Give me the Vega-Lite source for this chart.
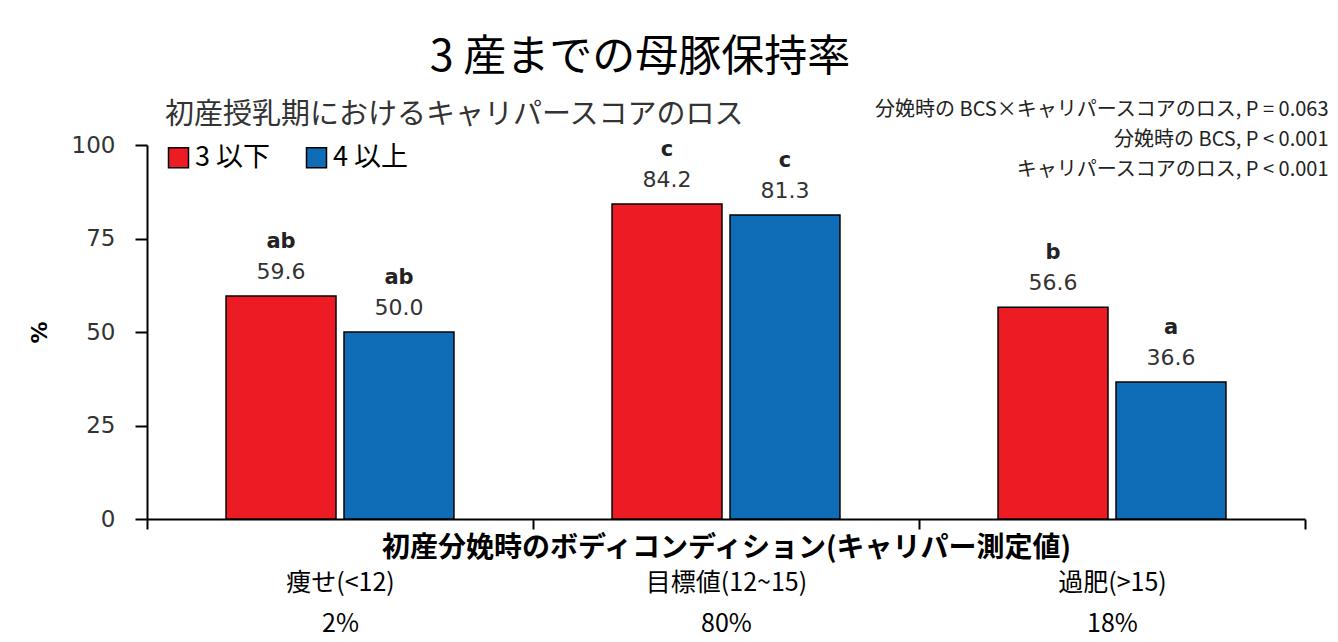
{
  "$schema": "https://vega.github.io/schema/vega-lite/v6.json",
  "width": 1158,
  "height": 374,
  "autosize": {"type": "none"},
  "padding": {"left": 147, "top": 145, "right": 33, "bottom": 123},
  "background": "white",
  "title": {
    "text": "3 産までの母豚保持率",
    "fontSize": 43,
    "font": "Noto Sans CJK JP",
    "fontWeight": "normal",
    "color": "black",
    "anchor": "middle",
    "dx": -86,
    "offset": 19
  },
  "data": {
    "values": [
      {"bcs": "痩せ(<12)", "loss": "3 以下", "pct": 59.6, "sig": "ab"},
      {"bcs": "痩せ(<12)", "loss": "4 以上", "pct": 50.0, "sig": "ab"},
      {"bcs": "目標値(12~15)", "loss": "3 以下", "pct": 84.2, "sig": "c"},
      {"bcs": "目標値(12~15)", "loss": "4 以上", "pct": 81.3, "sig": "c"},
      {"bcs": "過肥(>15)", "loss": "3 以下", "pct": 56.6, "sig": "b"},
      {"bcs": "過肥(>15)", "loss": "4 以上", "pct": 36.6, "sig": "a"}
    ]
  },
  "encoding": {
    "x": {
      "field": "bcs",
      "type": "nominal",
      "sort": null,
      "scale": {"paddingInner": 0, "paddingOuter": 0},
      "axis": {
        "title": "初産分娩時のボディコンディション(キャリパー測定値)",
        "titleFontSize": 28,
        "titleFontWeight": "bold",
        "titleFont": "Noto Sans CJK JP",
        "titleColor": "black",
        "titleY": 29,
        "titleBaseline": "middle",
        "labelExpr": "datum.label == '痩せ(<12)' ? ['痩せ(<12)', '2%'] : datum.label == '目標値(12~15)' ? ['目標値(12~15)', '80%'] : datum.label == '過肥(>15)' ? ['過肥(>15)', '18%'] : ''",
        "labelFontSize": 25,
        "labelFont": "Noto Sans CJK JP",
        "labelColor": "black",
        "labelPadding": 41,
        "labelLineHeight": 41,
        "labelAngle": 0,
        "labelBaseline": "top",
        "tickBand": "extent",
        "tickSize": 10,
        "tickWidth": 2,
        "tickColor": "black",
        "domainColor": "black",
        "domainWidth": 2,
        "grid": false
      }
    },
    "xOffset": {
      "field": "loss",
      "type": "nominal",
      "sort": ["3 以下", "4 以上"],
      "scale": {"paddingInner": 0.068, "paddingOuter": 0.67}
    }
  },
  "layer": [
    {
      "mark": {"type": "bar", "stroke": "black", "strokeWidth": 1.5},
      "encoding": {
        "y": {
          "field": "pct",
          "type": "quantitative",
          "scale": {"domain": [0, 100]},
          "axis": {
            "values": [0, 25, 50, 75, 100],
            "title": "%",
            "titleFontSize": 22,
            "titleFont": "DejaVu Sans",
            "titleFontWeight": "bold",
            "titleColor": "black",
            "titlePadding": 20,
            "labelFontSize": 23,
            "labelFont": "DejaVu Sans",
            "labelColor": "#333333",
            "labelPadding": 20,
            "tickSize": 12,
            "tickWidth": 2,
            "tickColor": "black",
            "domainColor": "black",
            "domainWidth": 2,
            "grid": false
          }
        },
        "color": {
          "field": "loss",
          "type": "nominal",
          "sort": ["3 以下", "4 以上"],
          "scale": {"domain": ["3 以下", "4 以上"], "range": ["#ED1C24", "#0F6CB6"]},
          "legend": {
            "orient": "none",
            "legendX": 18,
            "legendY": -44,
            "direction": "horizontal",
            "title": "初産授乳期におけるキャリパースコアのロス",
            "titleLimit": 0,
            "titleFontSize": 29,
            "titleFont": "Noto Sans CJK JP",
            "titleFontWeight": "normal",
            "titleColor": "#333333",
            "titlePadding": 14,
            "labelFontSize": 27,
            "labelFont": "Noto Sans CJK JP",
            "labelColor": "black",
            "labelOffset": 3,
            "labelLimit": 0,
            "columnPadding": 32,
            "symbolType": "square",
            "symbolSize": 400,
            "symbolStrokeColor": "black",
            "symbolStrokeWidth": 1.5,
            "symbolOpacity": 1
          }
        }
      }
    },
    {
      "mark": {"type": "text", "dy": -24, "fontSize": 22, "font": "DejaVu Sans", "color": "#333333"},
      "encoding": {
        "y": {"field": "pct", "type": "quantitative", "scale": {"domain": [0, 100]}, "axis": null},
        "text": {"field": "pct", "type": "quantitative", "format": ".1f"}
      }
    },
    {
      "mark": {"type": "text", "dy": -54, "fontSize": 21, "font": "DejaVu Sans", "fontWeight": "bold", "color": "#222222"},
      "encoding": {
        "y": {
          "field": "pct",
          "type": "quantitative",
          "scale": {"domain": [0, 100]},
          "axis": {
            "orient": "right",
            "domain": false,
            "ticks": false,
            "labels": false,
            "grid": false,
            "title": ["分娩時の BCS×キャリパースコアのロス, P = 0.063", "分娩時の BCS, P < 0.001", "キャリパースコアのロス, P < 0.001"],
            "titleAngle": 0,
            "titleAlign": "right",
            "titleBaseline": "top",
            "titleX": 23,
            "titleY": -46,
            "titleFontSize": 20,
            "titleFontWeight": "normal",
            "titleFont": "Noto Sans CJK JP",
            "titleColor": "#222222",
            "titleLineHeight": 30,
            "titleLimit": 0
          }
        },
        "text": {"field": "sig", "type": "nominal"}
      }
    }
  ],
  "resolve": {"axis": {"y": "independent"}},
  "config": {"view": {"stroke": null}}
}
